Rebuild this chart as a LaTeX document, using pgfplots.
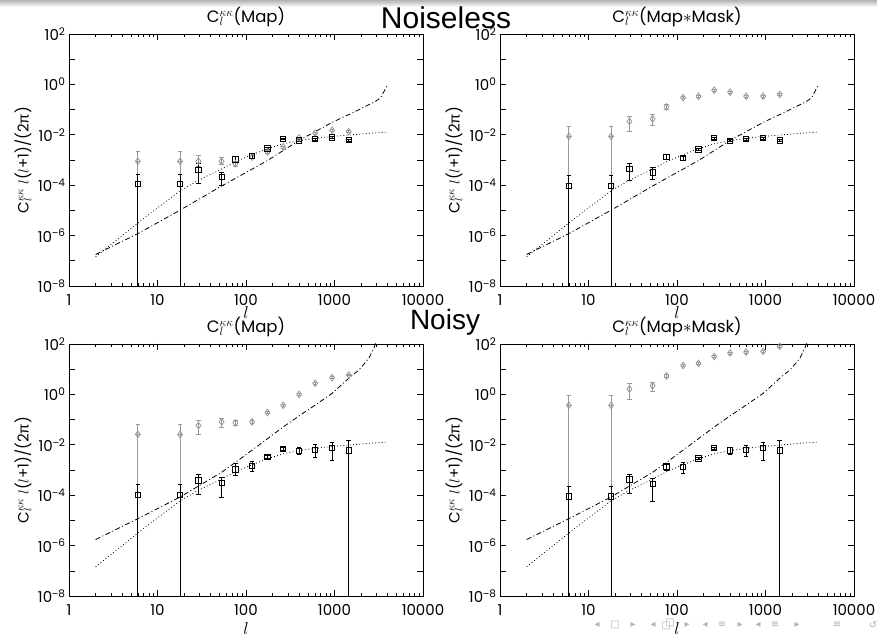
\documentclass[border=0pt]{standalone}
\usepackage{pgfplots}
\pgfplotsset{compat=1.18}
\usepackage{pgfplotstable}
\usepackage{fontspec}
\setmainfont{Poppins}
\newfontfamily\grk{Liberation Sans}
\newfontfamily\hv{Liberation Sans}
\newfontfamily\sym{DejaVu Sans}
\definecolor{lg}{gray}{0.6}
\definecolor{nav}{RGB}{175,175,215}
\newcommand\pw[1]{10\textsuperscript{#1}}
\newcommand\mn{{\grk −}}
\newcommand\Cl{C\rlap{\textsubscript{$l$}}\textsuperscript{$\kappa\kappa$}}

\pgfplotstableread{
l y
2 1.45e-7
3 4.47e-7
4 1.0e-6
6 3.16e-6
10 1.26e-5
18 5.9e-5
29 1.58e-4
50 3.98e-4
76 8.5e-4
117 1.62e-3
175 2.82e-3
263 4.37e-3
398 5.89e-3
604 7.24e-3
940 8.51e-3
1450 9.77e-3
2500 1.15e-2
4000 1.29e-2
}\theotab
\pgfplotstableread{
l y
2 1.78e-7
6 1.2e-6
18 1.02e-5
53 9.3e-5
175 9.5e-4
398 6.0e-3
940 3.1e-2
1730 8.5e-2
2900 0.21
3300 0.29
3600 0.5
4000 1.0
}\ddatab
\pgfplotstableread{
l y
2 1.74e-6
6 1.17e-5
18 8.5e-5
53 8.1e-4
76 2.0e-3
175 1.74e-2
263 5.1e-2
398 0.14
600 0.37
940 1.1
1450 4.4
1890 9.3
2450 27.5
2790 69
3000 150
}\ddbtab

\pgfplotstableread{
l y lo hi
6 1.12e-4 1e-9 2.6e-4
18 1.12e-4 1e-9 2.6e-4
29 4.1e-4 1.2e-4 7.1e-4
53 2.1e-4 1.0e-4 3.2e-4
76 1.07e-3 8.0e-4 1.35e-3
117 1.47e-3 1.2e-3 1.75e-3
175 2.9e-3 2.6e-3 3.2e-3
263 6.8e-3 6.3e-3 7.3e-3
398 6.0e-3 5.5e-3 6.5e-3
604 6.8e-3 6.2e-3 7.4e-3
940 7.9e-3 7.2e-3 8.6e-3
1450 6.2e-3 5.6e-3 6.8e-3
}\tlsq
\pgfplotstableread{
l y lo hi
6 8.9e-4 8.9e-4 2.1e-3
18 8.9e-4 8.9e-4 2.1e-3
29 8.9e-4 5.5e-4 1.55e-3
53 8.9e-4 6.5e-4 1.3e-3
76 7.1e-4 5.6e-4 8.9e-4
117 1.3e-3 1.15e-3 1.45e-3
175 2.1e-3 1.9e-3 2.3e-3
263 3.3e-3 3.0e-3 3.6e-3
398 7.6e-3 7.0e-3 8.2e-3
604 1.17e-2 1.07e-2 1.27e-2
940 1.5e-2 1.38e-2 1.62e-2
1450 1.33e-2 1.22e-2 1.44e-2
}\tlgr
\pgfplotstableread{
l y lo hi
6 9.5e-5 1e-9 2.35e-4
18 9.5e-5 1e-9 2.35e-4
29 4.5e-4 1.48e-4 7.4e-4
53 3.2e-4 1.62e-4 4.9e-4
76 1.35e-3 1.05e-3 1.6e-3
117 1.18e-3 1.0e-3 1.36e-3
175 2.6e-3 2.35e-3 2.85e-3
263 7.4e-3 6.8e-3 8.0e-3
398 5.8e-3 5.3e-3 6.3e-3
604 6.8e-3 6.2e-3 7.4e-3
940 7.4e-3 6.8e-3 8.0e-3
1450 6.0e-3 5.5e-3 6.5e-3
}\trsq
\pgfplotstableread{
l y lo hi
6 8.7e-3 8.7e-3 2.05e-2
18 8.7e-3 8.7e-3 2.05e-2
29 3.4e-2 1.38e-2 5.4e-2
53 4.3e-2 2.35e-2 6.3e-2
76 0.127 0.10 0.155
117 0.30 0.27 0.33
175 0.34 0.31 0.37
263 0.59 0.54 0.64
398 0.49 0.45 0.53
604 0.34 0.31 0.37
940 0.34 0.31 0.37
1450 0.40 0.37 0.43
}\trgr
\pgfplotstableread{
l y lo hi
6 1.0e-4 1e-9 2.6e-4
18 1.0e-4 1e-9 2.6e-4
29 3.9e-4 1.07e-4 6.5e-4
53 3.1e-4 7.8e-5 5.2e-4
76 1.07e-3 5.9e-4 1.74e-3
117 1.48e-3 8.5e-4 2.14e-3
175 3.3e-3 2.9e-3 3.7e-3
263 6.9e-3 6.0e-3 7.8e-3
398 5.8e-3 4.0e-3 8.1e-3
604 6.3e-3 3.2e-3 1.0e-2
940 7.4e-3 2.5e-3 1.29e-2
1450 5.9e-3 1e-9 1.48e-2
}\blsq
\pgfplotstableread{
l y lo hi
6 2.6e-2 2.6e-2 6.3e-2
18 2.6e-2 2.6e-2 6.3e-2
29 5.8e-2 2.6e-2 9.1e-2
53 8.1e-2 4.7e-2 0.11
76 7.4e-2 6.0e-2 9.1e-2
117 8.1e-2 7.0e-2 9.2e-2
175 0.19 0.17 0.21
263 0.37 0.34 0.40
398 1.0 0.92 1.08
604 2.75 2.5 3.0
940 4.6 4.2 5.0
1450 5.9 5.4 6.4
}\blgr
\pgfplotstableread{
l y lo hi
6 8.9e-5 1e-9 2.24e-4
18 8.9e-5 1e-9 2.24e-4
29 4.3e-4 1.17e-4 6.9e-4
53 2.8e-4 5.4e-5 4.8e-4
76 1.4e-3 9.5e-4 1.7e-3
117 1.35e-3 7.4e-4 2.04e-3
175 2.9e-3 2.6e-3 3.2e-3
263 7.4e-3 6.6e-3 8.2e-3
398 5.9e-3 4.2e-3 7.7e-3
604 6.3e-3 3.4e-3 9.5e-3
940 7.4e-3 2.4e-3 1.29e-2
1450 5.9e-3 1e-9 1.48e-2
}\brsq
\pgfplotstableread{
l y lo hi
6 0.37 0.37 0.93
18 0.37 0.37 0.93
29 1.63 0.65 2.6
53 2.2 1.3 2.95
76 5.4 4.6 6.3
117 14 12.5 15.5
175 17 15 19
263 32 29 35
398 44 40 48
604 48 44 52
940 51 47 55
1450 81 75 87
}\brgr

\pgfplotsset{
 every axis/.append style={
  scale only axis, width=354pt, height=252pt,
  xmin=1, xmax=10000, ymin=1e-8, ymax=100,
  xtick={1,10,100,1000,10000},
  xticklabels={1,10,100,1000,10000},
  ytick={1e-8,1e-7,1e-6,1e-5,1e-4,1e-3,1e-2,1e-1,1,10,100},
  yticklabels={\pw{\mn8},{},\pw{\mn6},{},\pw{\mn4},{},\pw{\mn2},{},\pw{0},{},\pw{2}},
  yminorticks=false,
  tick align=inside,
  major tick length=6pt, minor tick length=3pt,
  tick style={black, line width=0.6pt},
  axis line style={line width=0.9pt},
  tick label style={font=\fontsize{15}{17}\selectfont},
  xticklabel style={anchor=base, yshift=-19.5pt},
  title style={font=\fontsize{16.5}{18}\selectfont, anchor=base, yshift=5pt},
  xlabel={$l$},
  xlabel style={font=\fontsize{17}{19}\selectfont, at={(axis description cs:0.5,0)}, anchor=center},
  ylabel={\Cl\ $l$($l$+1)/(2{\grk π})},
  ylabel style={font=\fontsize{15}{17}\selectfont, at={(axis description cs:-0.13,0.5)}, anchor=center},
 },
 mytheo/.style={black, line width=0.8pt, dash pattern=on 0.8pt off 2.4pt, no marks},
 mydd/.style={black, line width=0.8pt, dash pattern=on 5pt off 2.5pt on 1pt off 2.5pt, no marks},
 mybar/.style={lg, line width=0.9pt, no marks, forget plot},
 mysq/.style={black, only marks, mark=square, mark size=2.7pt,
   mark options={line width=0.8pt},
   error bars/y dir=both, error bars/y explicit,
   error bars/error bar style={line width=0.9pt, black},
   error bars/error mark options={rotate=90, mark size=2.3pt, line width=0.9pt, black}},
 mygr/.style={lg, only marks, mark=diamond, mark size=3.3pt,
   mark options={line width=0.8pt},
   error bars/y dir=both, error bars/y explicit,
   error bars/error bar style={line width=0.9pt, lg},
   error bars/error mark options={rotate=90, mark size=2.3pt, line width=0.9pt, lg}},
}

\begin{document}
\begin{tikzpicture}
\useasboundingbox (0pt,0pt) rectangle (877pt,636pt);
\fill[white] (0pt,0pt) rectangle (877pt,636pt);
\shade[top color=gray!60, bottom color=white] (0pt,629pt) rectangle (877pt,636pt);

% top left
\begin{loglogaxis}[at={(69pt,350pt)}, title={\Cl(Map)}, xlabel style={yshift=-27pt}]
\addplot[mytheo] table[x=l,y=y] {\theotab};
\addplot[mydd] table[x=l,y=y] {\ddatab};
\addplot[mybar] coordinates {(6,1e-9) (6,8.9e-4)};
\addplot[mybar] coordinates {(18,1e-9) (18,8.9e-4)};
\addplot[mygr] table[x=l, y=y, y error plus expr=\thisrow{hi}-\thisrow{y}, y error minus expr=\thisrow{y}-\thisrow{lo}] {\tlgr};
\addplot[mysq] table[x=l, y=y, y error plus expr=\thisrow{hi}-\thisrow{y}, y error minus expr=\thisrow{y}-\thisrow{lo}] {\tlsq};
\end{loglogaxis}
% top right
\begin{loglogaxis}[at={(500pt,350pt)}, title={\Cl(Map$*$Mask)}, xlabel style={yshift=-27pt}]
\addplot[mytheo] table[x=l,y=y] {\theotab};
\addplot[mydd] table[x=l,y=y] {\ddatab};
\addplot[mybar] coordinates {(6,1e-9) (6,8.7e-3)};
\addplot[mybar] coordinates {(18,1e-9) (18,8.7e-3)};
\addplot[mygr] table[x=l, y=y, y error plus expr=\thisrow{hi}-\thisrow{y}, y error minus expr=\thisrow{y}-\thisrow{lo}] {\trgr};
\addplot[mysq] table[x=l, y=y, y error plus expr=\thisrow{hi}-\thisrow{y}, y error minus expr=\thisrow{y}-\thisrow{lo}] {\trsq};
\end{loglogaxis}
% bottom left
\begin{loglogaxis}[at={(69pt,40pt)}, title={\Cl(Map)}, xlabel style={yshift=-32pt}]
\addplot[mytheo] table[x=l,y=y] {\theotab};
\addplot[mydd] table[x=l,y=y] {\ddbtab};
\addplot[mybar] coordinates {(6,1e-9) (6,2.6e-2)};
\addplot[mybar] coordinates {(18,1e-9) (18,2.6e-2)};
\addplot[mygr] table[x=l, y=y, y error plus expr=\thisrow{hi}-\thisrow{y}, y error minus expr=\thisrow{y}-\thisrow{lo}] {\blgr};
\addplot[mysq] table[x=l, y=y, y error plus expr=\thisrow{hi}-\thisrow{y}, y error minus expr=\thisrow{y}-\thisrow{lo}] {\blsq};
\end{loglogaxis}
% bottom right
\begin{loglogaxis}[at={(500pt,40pt)}, title={\Cl(Map$*$Mask)}, xlabel style={yshift=-32pt}]
\addplot[mytheo] table[x=l,y=y] {\theotab};
\addplot[mydd] table[x=l,y=y] {\ddbtab};
\addplot[mybar] coordinates {(6,1e-9) (6,0.37)};
\addplot[mybar] coordinates {(18,1e-9) (18,0.37)};
\addplot[mygr] table[x=l, y=y, y error plus expr=\thisrow{hi}-\thisrow{y}, y error minus expr=\thisrow{y}-\thisrow{lo}] {\brgr};
\addplot[mysq] table[x=l, y=y, y error plus expr=\thisrow{hi}-\thisrow{y}, y error minus expr=\thisrow{y}-\thisrow{lo}] {\brsq};
\end{loglogaxis}

\node[font=\hv\fontsize{30}{32}\selectfont, anchor=base] at (446pt,607pt) {Noiseless};
\node[font=\hv\fontsize{28}{30}\selectfont, anchor=base] at (445pt,306pt) {Noisy};

\begin{scope}[every node/.style={font=\sym\fontsize{10}{12}\selectfont, text=nav, inner sep=0pt}]
\node at (597pt,11pt) {◂};
\node at (615pt,11pt) {□};
\node at (633pt,11pt) {▸};
\node at (653pt,11pt) {◂};
\node at (666pt,10pt) {□};
\node at (670pt,13pt) {□};
\node at (687pt,11pt) {▸};
\node at (705pt,11pt) {◂};
\node at (722pt,11pt) {≡};
\node at (740pt,11pt) {▸};
\node at (758pt,11pt) {◂};
\node at (775pt,11pt) {≡};
\node at (797pt,11pt) {▸};
\node at (837pt,11pt) {≡};
\node at (873pt,11pt) {↺};
\end{scope}
\end{tikzpicture}
\end{document}
